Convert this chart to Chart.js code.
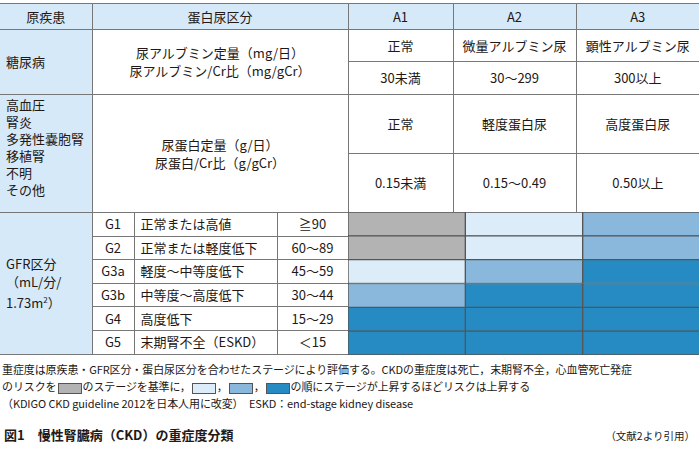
<!DOCTYPE html>
<html><head><meta charset="utf-8">
<script src="https://cdn.jsdelivr.net/npm/chart.js@4.4.0/dist/chart.umd.min.js"></script>
<style>
body{margin:0;width:699px;height:450px;background:#fff;font-family:"Noto Sans CJK JP","Noto Sans",sans-serif;color:#231815;overflow:hidden}
table{position:absolute;left:0;top:3px;width:699px;border-collapse:collapse;table-layout:fixed;font-size:13px}
td{border:1px solid #777;padding:0;text-align:center;vertical-align:middle;line-height:18px}
tr td:first-child{border-left:none}
tr td:last-child{border-right:none}
.hd td{background:#d6e9f8;height:25px}
.bl{background:#d6e9f8}
.left{text-align:left;padding-left:6px}
.g td{height:22.6px}
#notes{position:absolute;left:2px;top:361px;font-size:11px;line-height:17px;width:697px;letter-spacing:-0.1px}
#cap{position:absolute;left:4px;top:425px;font-size:13px;font-weight:bold}
#ref{position:absolute;right:4px;top:428px;font-size:10.5px}
.sw{display:inline-block;width:22px;height:9px;border:1px solid #555;vertical-align:middle;margin:0 1px}
</style></head><body>
<table>
<colgroup><col style="width:92px"><col style="width:42px"><col style="width:143px"><col style="width:71px"><col style="width:105px"><col style="width:123px"><col style="width:123px"></colgroup>
<tr class="hd"><td>原疾患</td><td colspan="3">蛋白尿区分</td><td>A1</td><td>A2</td><td>A3</td></tr>
<tr><td class="bl left" rowspan="2">糖尿病</td><td colspan="3" rowspan="2">尿アルブミン定量（mg/日）<br>尿アルブミン/Cr比（mg/gCr）</td><td style="height:31px">正常</td><td>微量アルブミン尿</td><td>顕性アルブミン尿</td></tr>
<tr><td style="height:32px">30未満</td><td>30～299</td><td>300以上</td></tr>
<tr><td class="bl left" rowspan="2" style="vertical-align:top;padding-top:1px;line-height:17px">高血圧<br>腎炎<br>多発性嚢胞腎<br>移植腎<br>不明<br>その他</td><td colspan="3" rowspan="2">尿蛋白定量（g/日）<br>尿蛋白/Cr比（g/gCr）</td><td style="height:58px">正常</td><td>軽度蛋白尿</td><td>高度蛋白尿</td></tr>
<tr><td style="height:58px">0.15未満</td><td>0.15～0.49</td><td>0.50以上</td></tr>
<tr class="g"><td class="bl left" rowspan="6">GFR区分<br>（mL/分/<br>1.73m<sup style="font-size:8px">2</sup>）</td><td>G1</td><td class="left">正常または高値</td><td>≧90</td><td colspan="3" rowspan="6" style="position:relative;padding:0"><div style="position:absolute;left:-1px;top:-1px;width:352px;height:143px"><canvas id="c"></canvas></div></td></tr>
<tr class="g"><td>G2</td><td class="left">正常または軽度低下</td><td>60～89</td></tr>
<tr class="g"><td>G3a</td><td class="left">軽度～中等度低下</td><td>45～59</td></tr>
<tr class="g"><td>G3b</td><td class="left">中等度～高度低下</td><td>30～44</td></tr>
<tr class="g"><td>G4</td><td class="left">高度低下</td><td>15～29</td></tr>
<tr class="g"><td>G5</td><td class="left">末期腎不全（ESKD）</td><td>＜15</td></tr>
</table>
<div id="notes">重症度は原疾患・GFR区分・蛋白尿区分を合わせたステージにより評価する。CKDの重症度は死亡，末期腎不全，心血管死亡発症<br>のリスクを<span class="sw" style="background:#b3b3b3"></span>のステージを基準に，<span class="sw" style="background:#dcecf9"></span>，<span class="sw" style="background:#8ab8dc"></span>，<span class="sw" style="background:#268bc2"></span>の順にステージが上昇するほどリスクは上昇する<br>（KDIGO CKD guideline 2012を日本人用に改変）　ESKD：end-stage kidney disease</div>
<div id="cap">図1　慢性腎臓病（CKD）の重症度分類</div>
<div id="ref">（文献2より引用）</div>
<script>
// ステージ（行）とA区分（列）
const gfrStages = ['G1', 'G2', 'G3a', 'G3b', 'G4', 'G5'];
const albCategories = ['A1', 'A2', 'A3'];
// リスクレベル 0=基準, 1..3
const riskA1 = [0, 0, 1, 2, 3, 3];
const riskA2 = [1, 1, 2, 3, 3, 3];
const riskA3 = [2, 2, 3, 3, 3, 3];
const riskColors = ['#b3b3b3', '#dcecf9', '#8ab8dc', '#268bc2'];

const risks = [riskA1, riskA2, riskA3];
new Chart(document.getElementById('c'), {
  type: 'bar',
  data: {
    labels: gfrStages,
    datasets: albCategories.map((name, i) => ({
      label: name,
      data: gfrStages.map(() => 1),
      backgroundColor: risks[i].map(r => riskColors[r]),
      borderColor: '#555',
      borderWidth: 1,
      borderSkipped: false,
      barPercentage: 1,
      categoryPercentage: 1
    }))
  },
  options: {
    indexAxis: 'y',
    responsive: true,
    maintainAspectRatio: false,
    animation: false,
    layout: { padding: 0 },
    plugins: { legend: { display: false }, tooltip: { enabled: false } },
    scales: {
      x: { stacked: true, min: 0, max: 3, display: false },
      y: { stacked: true, display: false }
    }
  }
});
</script>
</body></html>
